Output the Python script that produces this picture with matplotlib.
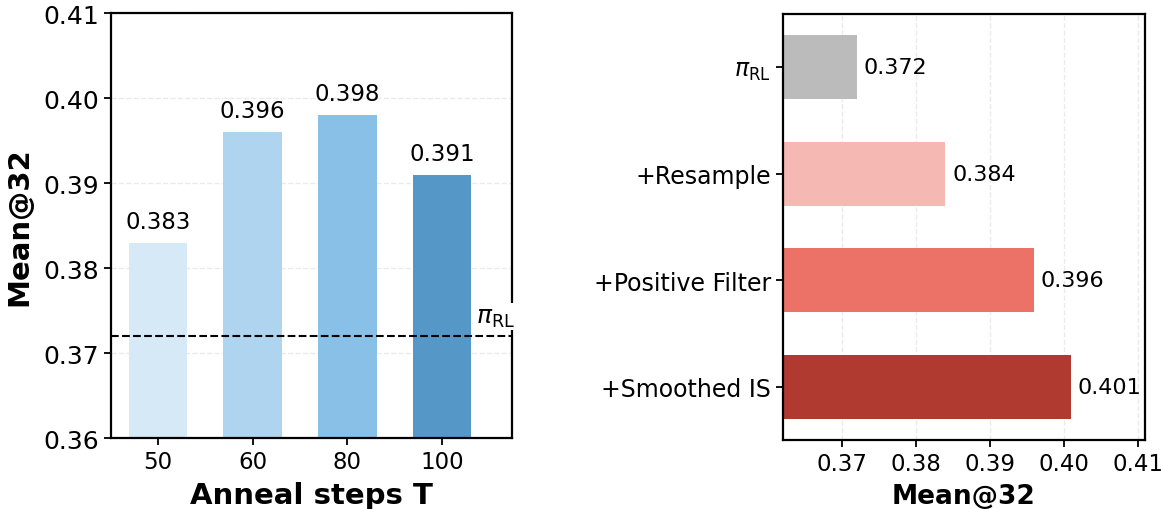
import matplotlib.pyplot as plt

# left panel: anneal steps
steps = ['50', '60', '80', '100']
step_scores = [0.383, 0.396, 0.398, 0.391]
step_colors = ['#d6e9f7', '#aed4ef', '#88c0e8', '#5598c8']
baseline = 0.372

# right panel: ablation
methods = [r'$\pi_{\mathrm{RL}}$', '+Resample', '+Positive Filter', '+Smoothed IS']
method_scores = [0.372, 0.384, 0.396, 0.401]
method_colors = ['#bbbbbb', '#f5b8b3', '#ec7166', '#b03a30']

fig = plt.figure(figsize=(11.62, 5.1), dpi=100)
ax1 = fig.add_axes([110.7 / 1162, 70.7 / 510, 401.3 / 1162, 425 / 510])
ax2 = fig.add_axes([782.7 / 1162, 69 / 510, 362.3 / 1162, 426 / 510])

x = range(len(steps))
ax1.bar(x, step_scores, width=0.62, color=step_colors, zorder=2)
for i, v in enumerate(step_scores):
    ax1.text(i, v + 0.0012, f'{v:.3f}', ha='center', va='bottom', fontsize=16.5)
ax1.axhline(baseline, color='black', linestyle='--', linewidth=1.5, zorder=3)
ax1.text(3.77, baseline + 0.0009, r'$\pi_{\mathrm{RL}}$', ha='right', va='bottom', fontsize=18,
         bbox=dict(facecolor='white', edgecolor='none', pad=1), zorder=4, clip_on=False)
ax1.set_ylim(0.36, 0.41)
ax1.set_xlim(-0.5, 3.74)
ax1.set_xticks(list(x))
ax1.set_xticklabels(steps)
ax1.set_yticks([0.36, 0.37, 0.38, 0.39, 0.40, 0.41])
ax1.set_yticklabels(['0.36', '0.37', '0.38', '0.39', '0.40', '0.41'])
ax1.grid(axis='y', linestyle='--', color='#dddddd', alpha=0.6, linewidth=1, zorder=0)
ax1.set_axisbelow(True)
ax1.set_xlabel('Anneal steps T', fontsize=21, fontweight='bold', labelpad=6)
ax1.set_ylabel('Mean@32', fontsize=21, fontweight='bold', labelpad=7)
ax1.tick_params(axis='y', labelsize=18, width=1.3, length=5)
ax1.tick_params(axis='x', labelsize=16.5, width=1.3, length=5)

y = range(len(methods))
ax2.barh(y, method_scores, height=0.6, color=method_colors, zorder=2)
for i, v in enumerate(method_scores):
    ax2.text(v + 0.0009, i, f'{v:.3f}', ha='left', va='center', fontsize=16)
ax2.set_xlim(0.362, 0.411)
ax2.set_ylim(3.5, -0.5)
ax2.set_yticks(list(y))
ax2.set_yticklabels(methods)
ax2.set_xticks([0.37, 0.38, 0.39, 0.40, 0.41])
ax2.set_xticklabels(['0.37', '0.38', '0.39', '0.40', '0.41'])
ax2.grid(axis='x', linestyle='--', color='#dddddd', alpha=0.6, linewidth=1, zorder=0)
ax2.set_axisbelow(True)
ax2.set_xlabel('Mean@32', fontsize=19, fontweight='bold', labelpad=6)
ax2.tick_params(axis='y', labelsize=17, width=1.3, length=5)
ax2.tick_params(axis='x', labelsize=16.5, width=1.3, length=5)

for ax in (ax1, ax2):
    for s in ax.spines.values():
        s.set_linewidth(1.6)

fig.savefig('out.png', dpi=100)
